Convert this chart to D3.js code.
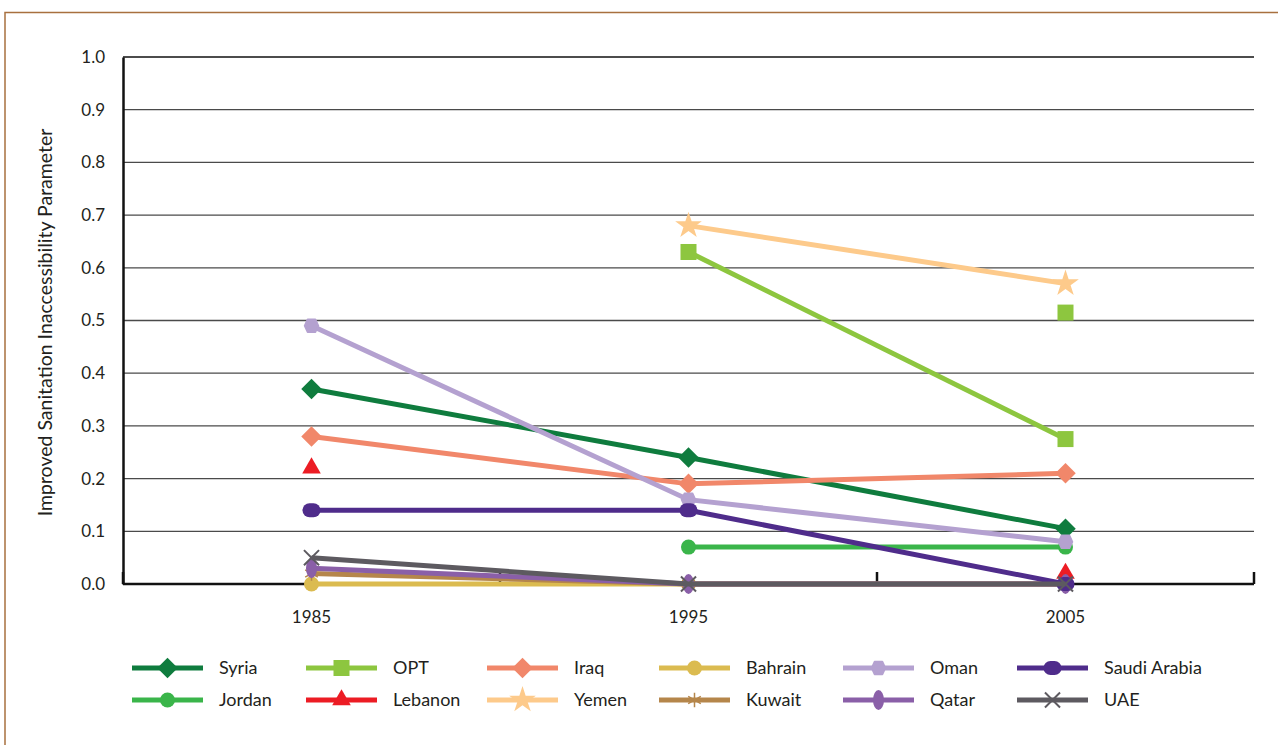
<!DOCTYPE html>
<html><head><meta charset="utf-8">
<script src="https://cdn.jsdelivr.net/npm/d3@7"></script>
<style>body{margin:0;background:#fff}svg{display:block}text{font-family:Lato,"Open Sans",sans-serif;fill:#231f20}</style>
</head><body>
<svg id="c" width="1278" height="745"></svg>
<script>
const years = ["1985","1995","2005"];
const yTicks = [0,0.1,0.2,0.3,0.4,0.5,0.6,0.7,0.8,0.9,1.0];
const syria  = [0.37, 0.24, 0.105];
const opt    = [null, 0.63, 0.275];
const optExtra = [null, null, 0.515];
const iraq   = [0.28, 0.19, 0.21];
const bahrain= [0.0, 0.0, 0.0];
const oman   = [0.49, 0.16, 0.08];
const saudi  = [0.14, 0.14, 0.0];
const jordan = [null, 0.07, 0.07];
const lebanon= [0.22, null, 0.02];
const yemen  = [null, 0.68, 0.57];
const kuwait = [0.02, 0.0, 0.0];
const qatar  = [0.03, 0.0, 0.0];
const uae    = [0.05, 0.0, 0.0];

const series = [
 {name:"Syria", v:syria, c:"#0f7c3e", m:"diamond"},
 {name:"Jordan", v:jordan, c:"#3ab54a", m:"circle"},
 {name:"OPT", v:opt, c:"#8dc63f", m:"square", extra:optExtra},
 {name:"Lebanon", v:lebanon, c:"#ec1c24", m:"triangle", noLine:true},
 {name:"Iraq", v:iraq, c:"#f1876a", m:"diamond"},
 {name:"Yemen", v:yemen, c:"#fdca8b", m:"star"},
 {name:"Bahrain", v:bahrain, c:"#dbbb50", m:"circle"},
 {name:"Kuwait", v:kuwait, c:"#b5864b", m:"asterisk"},
 {name:"Oman", v:oman, c:"#b4a1d0", m:"hex"},
 {name:"Qatar", v:qatar, c:"#8a5fa8", m:"vellipse"},
 {name:"Saudi Arabia", v:saudi, c:"#4f2c8b", m:"hellipse"},
 {name:"UAE", v:uae, c:"#5d5a60", m:"cross"}
];
const legendOrder = ["Syria","OPT","Iraq","Bahrain","Oman","Saudi Arabia","Jordan","Lebanon","Yemen","Kuwait","Qatar","UAE"];

const svg = d3.select("#c");
// frame
svg.append("path").attr("d","M5,745V12.5H1278").attr("fill","none").attr("stroke","#a8703f").attr("stroke-width",1.5);

const L=123, R=1254, T=57, B=584;
const x = d3.scaleBand().domain(years).range([L,R]);
const y = d3.scaleLinear().domain([0,1]).range([B,T]);

// gridlines
svg.append("g").selectAll("line").data(yTicks.filter(d=>d>0)).join("line")
 .attr("x1",L).attr("x2",R).attr("y1",d=>y(d)).attr("y2",d=>y(d))
 .attr("stroke",d=>d===1?"#111":"#4a4a4a").attr("stroke-width",1.3);

// y axis
const ya = svg.append("g").attr("transform",`translate(${L},0)`)
 .call(d3.axisLeft(y).tickValues(yTicks).tickFormat(d3.format(".1f")).tickSize(0).tickPadding(18));
ya.select(".domain").attr("stroke","#111").attr("stroke-width",2.5);
ya.selectAll("text").attr("font-size",17).style("font-family","Lato,sans-serif").attr("fill","#231f20");

// x axis
const xa = svg.append("g").attr("transform",`translate(0,${B})`)
 .call(d3.axisBottom(x).tickSize(0).tickPadding(27));
xa.select(".domain").remove();
xa.selectAll("text").attr("font-size",17).style("font-family","Lato,sans-serif").attr("fill","#231f20");
svg.append("line").attr("x1",L).attr("x2",R).attr("y1",B).attr("y2",B).attr("stroke","#111").attr("stroke-width",2.5);
const bounds = years.map(d=>x(d)).concat([R]);
svg.append("g").selectAll("line").data(bounds).join("line")
 .attr("x1",d=>d).attr("x2",d=>d).attr("y1",B).attr("y2",B-12).attr("stroke","#111").attr("stroke-width",2.5);

svg.append("text").attr("transform",`translate(52,${(T+B)/2+2}) rotate(-90)`).attr("text-anchor","middle")
 .attr("font-size",19.5).text("Improved Sanitation Inaccessibility Parameter");

function marker(g, type, c, s){
 s = s||1;
 if(type==="diamond") g.append("path").attr("d",d3.symbol(d3.symbolSquare, 210*s*s)()).attr("transform","rotate(45)").attr("fill",c);
 else if(type==="square") g.append("rect").attr("x",-8*s).attr("y",-8*s).attr("width",16*s).attr("height",16*s).attr("fill",c);
 else if(type==="circle") g.append("circle").attr("r",7.5*s).attr("fill",c);
 else if(type==="triangle") g.append("path").attr("d",d3.symbol(d3.symbolTriangle, 150*s*s)()).attr("fill",c);
 else if(type==="star") g.append("path").attr("d",d3.symbol(d3.symbolStar, 220*s*s)()).attr("fill",c);
 else if(type==="hex") g.append("path").attr("d","M-7,0L-4,-6.5L4,-6.5L7,0L4,6.5L-4,6.5Z").attr("transform",`scale(${s})`).attr("fill",c).attr("stroke",c).attr("stroke-width",1.5).attr("stroke-linejoin","round");
 else if(type==="hellipse") g.append("rect").attr("x",-9*s).attr("y",-7*s).attr("width",18*s).attr("height",14*s).attr("rx",7*s).attr("fill",c);
 else if(type==="vellipse") g.append("ellipse").attr("rx",5.5*s).attr("ry",10*s).attr("fill",c);
 else if(type==="asterisk") g.append("path").attr("d",d3.symbol(d3.symbolAsterisk, 150*s*s)()).attr("stroke",c).attr("stroke-width",1.5).attr("fill","none");
 else if(type==="cross") g.append("path").attr("d",d3.symbol(d3.symbolX, 150*s*s)()).attr("stroke",c).attr("stroke-width",2).attr("fill","none");
}

const line = d3.line().defined(d=>d[1]!=null).x(d=>x(d[0])+x.bandwidth()/2).y(d=>y(d[1]));
series.forEach(s=>{
 const pts = years.map((yr,i)=>[yr,s.v[i]]);
 if(!s.noLine) svg.append("path").attr("d",line(pts)).attr("fill","none").attr("stroke",s.c).attr("stroke-width",5);
 const all = pts.concat(s.extra? years.map((yr,i)=>[yr,s.extra[i]]) : []);
 all.filter(d=>d[1]!=null).forEach(d=>{
   const g = svg.append("g").attr("transform",`translate(${x(d[0])+x.bandwidth()/2},${y(d[1])})`);
   marker(g,s.m,s.c,1);
 });
});

// legend
const colX = [132,306,487,659,843,1017];
legendOrder.forEach((n,i)=>{
 const s = series.find(d=>d.name===n);
 const col = i%6, row = Math.floor(i/6);
 const lx = colX[col], ly = 668 + row*32;
 svg.append("line").attr("x1",lx).attr("x2",lx+71).attr("y1",ly).attr("y2",ly).attr("stroke",s.c).attr("stroke-width",5);
 const g = svg.append("g").attr("transform",`translate(${lx+35.5},${ly})`);
 marker(g,s.m,s.c,1);
 svg.append("text").attr("x",lx+87).attr("y",ly+6).attr("font-size",18).text(n);
});
</script>
</body></html>
